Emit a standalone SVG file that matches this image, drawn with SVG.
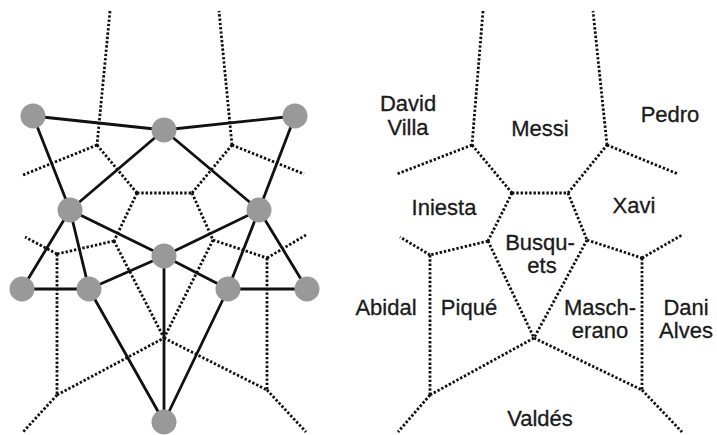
<svg xmlns="http://www.w3.org/2000/svg" width="717" height="435" viewBox="0 0 717 435">
<style>
.dot{fill:none;stroke:#111;stroke-width:2.8;stroke-dasharray:2.4 1.9;}
.edge{fill:none;stroke:#111;stroke-width:2.8;stroke-linecap:round;}
.node circle{fill:#999;stroke:none;}
.lbl{font-family:"Liberation Sans",Arial,sans-serif;font-size:22px;fill:#1a1a1a;stroke:#1a1a1a;stroke-width:0.3;text-anchor:middle;}
</style>
<rect width="717" height="435" fill="#fff"/>
<g id="voronoi-left">
<path class="dot" d="M110,11 L97,145"/>
<path class="dot" d="M97,145 L23,175"/>
<path class="dot" d="M97,145 L137,193"/>
<path class="dot" d="M137,193 L192,193"/>
<path class="dot" d="M192,193 L232,145"/>
<path class="dot" d="M232,145 L219,11"/>
<path class="dot" d="M232,145 L304,174"/>
<path class="dot" d="M137,193 L114,241"/>
<path class="dot" d="M114,241 L57,254"/>
<path class="dot" d="M57,254 L25,237"/>
<path class="dot" d="M57,254 L57,395"/>
<path class="dot" d="M57,395 L23,432"/>
<path class="dot" d="M57,395 L164,338"/>
<path class="dot" d="M114,241 L164,338"/>
<path class="dot" d="M192,193 L213,240"/>
<path class="dot" d="M213,240 L164,338"/>
<path class="dot" d="M213,240 L267,258"/>
<path class="dot" d="M267,258 L306,235"/>
<path class="dot" d="M267,258 L267,390"/>
<path class="dot" d="M164,338 L267,390"/>
<path class="dot" d="M267,390 L306,432"/>
</g>
<g id="connectors">
<line class="edge" x1="33" y1="116" x2="164" y2="130"/>
<line class="edge" x1="164" y1="130" x2="295" y2="116"/>
<line class="edge" x1="33" y1="116" x2="70" y2="210"/>
<line class="edge" x1="164" y1="130" x2="70" y2="210"/>
<line class="edge" x1="164" y1="130" x2="259" y2="210"/>
<line class="edge" x1="295" y1="116" x2="259" y2="210"/>
<line class="edge" x1="70" y1="210" x2="22" y2="289"/>
<line class="edge" x1="70" y1="210" x2="89" y2="289"/>
<line class="edge" x1="70" y1="210" x2="164" y2="256"/>
<line class="edge" x1="22" y1="289" x2="89" y2="289"/>
<line class="edge" x1="89" y1="289" x2="164" y2="256"/>
<line class="edge" x1="89" y1="289" x2="164" y2="422"/>
<line class="edge" x1="164" y1="256" x2="164" y2="422"/>
<line class="edge" x1="259" y1="210" x2="164" y2="256"/>
<line class="edge" x1="164" y1="256" x2="228" y2="289"/>
<line class="edge" x1="259" y1="210" x2="228" y2="289"/>
<line class="edge" x1="259" y1="210" x2="307" y2="289"/>
<line class="edge" x1="228" y1="289" x2="307" y2="289"/>
<line class="edge" x1="228" y1="289" x2="164" y2="422"/>
</g>
<g id="n1" class="node"><circle cx="33" cy="116" r="12.5"/></g>
<g id="n2" class="node"><circle cx="164" cy="130" r="12.5"/></g>
<g id="n3" class="node"><circle cx="295" cy="116" r="12.5"/></g>
<g id="n4" class="node"><circle cx="70" cy="210" r="12.5"/></g>
<g id="n5" class="node"><circle cx="259" cy="210" r="12.5"/></g>
<g id="n6" class="node"><circle cx="164" cy="256" r="12.5"/></g>
<g id="n7" class="node"><circle cx="22" cy="289" r="12.5"/></g>
<g id="n8" class="node"><circle cx="89" cy="289" r="12.5"/></g>
<g id="n9" class="node"><circle cx="228" cy="289" r="12.5"/></g>
<g id="n10" class="node"><circle cx="307" cy="289" r="12.5"/></g>
<g id="n11" class="node"><circle cx="164" cy="422" r="12.5"/></g>
<g id="voronoi-right">
<path class="dot" d="M483,11 L472,145"/>
<path class="dot" d="M472,145 L397,174"/>
<path class="dot" d="M472,145 L512,193"/>
<path class="dot" d="M512,193 L568,193"/>
<path class="dot" d="M568,193 L607,145"/>
<path class="dot" d="M607,145 L593,11"/>
<path class="dot" d="M607,145 L678,174"/>
<path class="dot" d="M512,193 L488,241"/>
<path class="dot" d="M488,241 L430,255"/>
<path class="dot" d="M430,255 L400,237"/>
<path class="dot" d="M430,255 L430,395"/>
<path class="dot" d="M430,395 L398,432"/>
<path class="dot" d="M430,395 L534,338"/>
<path class="dot" d="M488,241 L534,338"/>
<path class="dot" d="M568,193 L587,240"/>
<path class="dot" d="M587,240 L534,338"/>
<path class="dot" d="M587,240 L642,258"/>
<path class="dot" d="M642,258 L682,235"/>
<path class="dot" d="M642,258 L642,390"/>
<path class="dot" d="M534,338 L642,390"/>
<path class="dot" d="M642,390 L682,432"/>
</g>
<g id="labels">
<text class="lbl" x="408" y="111">David</text>
<text class="lbl" x="408" y="135">Villa</text>
<text class="lbl" x="540" y="136">Messi</text>
<text class="lbl" x="670" y="122">Pedro</text>
<text class="lbl" x="444" y="215">Iniesta</text>
<text class="lbl" x="634" y="213">Xavi</text>
<text class="lbl" x="540" y="250">Busqu-</text>
<text class="lbl" x="542" y="273">ets</text>
<text class="lbl" x="386" y="315">Abidal</text>
<text class="lbl" x="469" y="315">Piqué</text>
<text class="lbl" x="600" y="315">Masch-</text>
<text class="lbl" x="600" y="338">erano</text>
<text class="lbl" x="686" y="315">Dani</text>
<text class="lbl" x="686" y="338">Alves</text>
<text class="lbl" x="540" y="426">Valdés</text>
</g>
</svg>
